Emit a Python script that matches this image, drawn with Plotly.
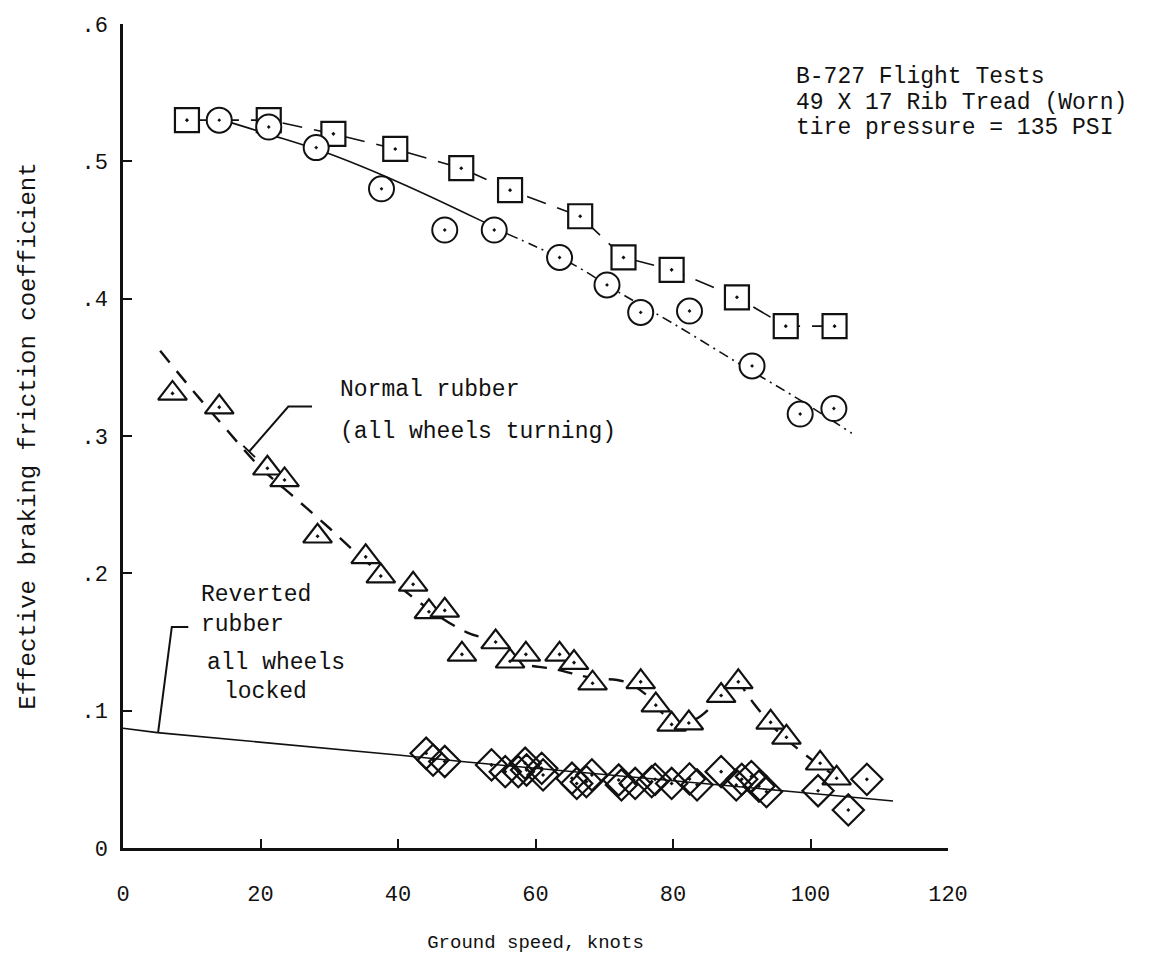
import plotly.graph_objects as go

# --- B-727 braking friction data (ground speed in knots, effective mu) ---
speed_sq = [9.3, 21.2, 30.6, 39.6, 49.2, 56.3, 66.5, 72.8, 79.8, 89.3, 96.4, 103.5]
mu_sq = [0.530, 0.530, 0.520, 0.509, 0.495, 0.479, 0.460, 0.430, 0.421, 0.401, 0.380, 0.380]

speed_circ = [14.0, 21.2, 28.1, 37.6, 46.8, 54.0, 63.5, 70.4, 75.3, 82.4, 91.5, 98.5, 103.4]
mu_circ = [0.530, 0.525, 0.510, 0.480, 0.450, 0.450, 0.430, 0.410, 0.390, 0.391, 0.351, 0.316, 0.320]

# faired curve through the circle points (solid part, then dash-dot part)
circ_fit_a_x = [14.5, 21.0, 29.7, 40.0, 52.0, 56.0]
circ_fit_a_y = [0.530, 0.520, 0.506, 0.485, 0.457, 0.447]
circ_fit_b_x = [56.0, 60.0, 65.6, 72.0, 80.0, 89.5, 98.2, 106.0]
circ_fit_b_y = [0.447, 0.438, 0.4246, 0.405, 0.382, 0.353, 0.327, 0.302]

speed_tri = [7.2, 14.0, 21.0, 23.5, 28.3, 35.3, 37.5, 42.2, 44.5, 46.8, 49.3, 54.2, 56.3,
             58.6, 63.5, 65.6, 68.3, 75.3, 77.5, 79.8, 82.3, 87.0, 89.5, 94.2, 96.5, 101.4, 103.8]
mu_tri = [0.331, 0.321, 0.2765, 0.268, 0.227, 0.212, 0.198, 0.192, 0.172, 0.173, 0.141, 0.150, 0.136,
          0.141, 0.141, 0.135, 0.120, 0.121, 0.104, 0.090, 0.091, 0.111, 0.121, 0.0915, 0.0806, 0.0617, 0.0508]

tri_fit_x = [5.4, 10, 15, 20, 25, 30, 35, 40, 45, 50, 54, 57, 63, 68, 73, 76, 78.5, 81, 84, 87,
             89.5, 91, 95, 100, 104]
tri_fit_y = [0.362, 0.334, 0.305, 0.277, 0.255, 0.233, 0.210, 0.191, 0.172, 0.157, 0.150, 0.136,
             0.130, 0.124, 0.121, 0.112, 0.098, 0.090, 0.096, 0.110, 0.120, 0.110, 0.086, 0.065, 0.051]

speed_dia = [44.1, 45.1, 46.8,
             53.6, 55.6, 57.5, 58.5, 58.7, 60.9, 61.1,
             65.3, 66.0, 67.4, 68.2,
             72.1, 72.5, 74.5, 76.9, 77.4, 79.8, 82.4, 83.5,
             87.0, 89.2, 90.0, 91.4, 92.5, 93.6,
             101.1, 105.5, 108.2]
mu_dia = [0.069, 0.064, 0.063,
          0.0605, 0.0556, 0.0556, 0.0617, 0.0568, 0.058, 0.0532,
          0.0508, 0.047, 0.0483, 0.0532,
          0.0495, 0.0459, 0.047, 0.0483, 0.050, 0.047, 0.0503, 0.046,
          0.0556, 0.0459, 0.050, 0.052, 0.045, 0.041,
          0.0417, 0.0277, 0.050]

dia_fit_x = [0, 5, 40, 50, 97.5, 112]
dia_fit_y = [0.0872, 0.084, 0.0677, 0.0626, 0.0410, 0.0342]

x_ticks = [0, 20, 40, 60, 80, 100, 120]
y_ticks = [0, 0.1, 0.2, 0.3, 0.4, 0.5, 0.6]
y_tick_text = ["0", ".1", ".2", ".3", ".4", ".5", ".6"]

FONT = "Liberation Mono"
INK = "#111111"

fig = go.Figure()

# faired curves
fig.add_trace(go.Scatter(x=circ_fit_a_x, y=circ_fit_a_y, mode="lines",
                         line=dict(color=INK, width=1.6, shape="spline")))
fig.add_trace(go.Scatter(x=circ_fit_b_x, y=circ_fit_b_y, mode="lines",
                         line=dict(color=INK, width=1.6, shape="spline", dash="10px,5px,2px,5px")))
fig.add_trace(go.Scatter(x=tri_fit_x, y=tri_fit_y, mode="lines",
                         line=dict(color=INK, width=2.4, shape="spline", dash="15px,11px")))
fig.add_trace(go.Scatter(x=dia_fit_x, y=dia_fit_y, mode="lines",
                         line=dict(color=INK, width=1.6)))

# data points
fig.add_trace(go.Scatter(x=speed_sq, y=mu_sq, mode="lines+markers",
                         line=dict(color=INK, width=1.6, dash="20px,12px"),
                         marker=dict(symbol="square-dot", size=24, color="white",
                                     line=dict(color=INK, width=2.2))))
fig.add_trace(go.Scatter(x=speed_circ, y=mu_circ, mode="markers",
                         marker=dict(symbol="circle-dot", size=25, color="white",
                                     line=dict(color=INK, width=2))))
fig.add_trace(go.Scatter(x=speed_tri, y=mu_tri, mode="markers",
                         marker=dict(symbol="triangle-up-dot", size=25, color="white",
                                     line=dict(color=INK, width=2.2))))
fig.add_trace(go.Scatter(x=speed_dia, y=mu_dia, mode="markers",
                         marker=dict(symbol="diamond-open-dot", size=24, color=INK,
                                     line=dict(color=INK, width=2.2))))

# leader lines for the labels
leaders = [
    ([17.5, 19.2], [0.2928, 0.2846]),
    ([18.35, 24.05, 27.5], [0.2887, 0.3214, 0.3214]),
    ([5.1, 7.1, 9.5], [0.0838, 0.161, 0.161]),
]
for lx, ly in leaders:
    fig.add_trace(go.Scatter(x=lx, y=ly, mode="lines", line=dict(color=INK, width=2)))

labels = [
    (31.3, 0.3336, "Normal rubber"),
    (31.3, 0.3030, "(all wheels turning)"),
    (11.0, 0.1843, "Reverted"),
    (11.0, 0.1624, "rubber"),
    (11.9, 0.1347, "all wheels"),
    (14.4, 0.1136, "locked"),
    (97.6, 0.5615, "B-727 Flight Tests"),
    (97.6, 0.5426, "49 X 17 Rib Tread (Worn)"),
    (97.6, 0.5244, "tire pressure = 135 PSI"),
]
for lx, ly, txt in labels:
    fig.add_annotation(x=lx, y=ly, text=txt, showarrow=False, xanchor="left", yanchor="middle",
                       font=dict(family=FONT, size=23, color=INK))

fig.update_layout(
    width=1156, height=960,
    margin=dict(l=123, r=208, t=24, b=112),
    paper_bgcolor="white", plot_bgcolor="white",
    showlegend=False,
    font=dict(family=FONT, color=INK),
)
fig.update_xaxes(
    range=[0, 120], tickvals=x_ticks, ticks="inside", ticklen=9, tickwidth=2, tickcolor=INK,
    showline=True, linecolor=INK, linewidth=2.5, showgrid=False, zeroline=False,
    tickfont=dict(family=FONT, size=22, color=INK), ticklabelstandoff=24,
    title=dict(text="Ground speed, knots", font=dict(family=FONT, size=19, color=INK), standoff=28),
)
fig.update_yaxes(
    range=[0, 0.6], tickvals=y_ticks, ticktext=y_tick_text, ticks="inside", ticklen=9, tickwidth=2,
    tickcolor=INK, showline=True, linecolor=INK, linewidth=2.5, showgrid=False, zeroline=False,
    tickfont=dict(family=FONT, size=22, color=INK), ticklabelstandoff=8,
    title=dict(text="Effective braking friction coefficient", font=dict(family=FONT, size=24, color=INK),
               standoff=40),
)

fig.write_html("out.html")
